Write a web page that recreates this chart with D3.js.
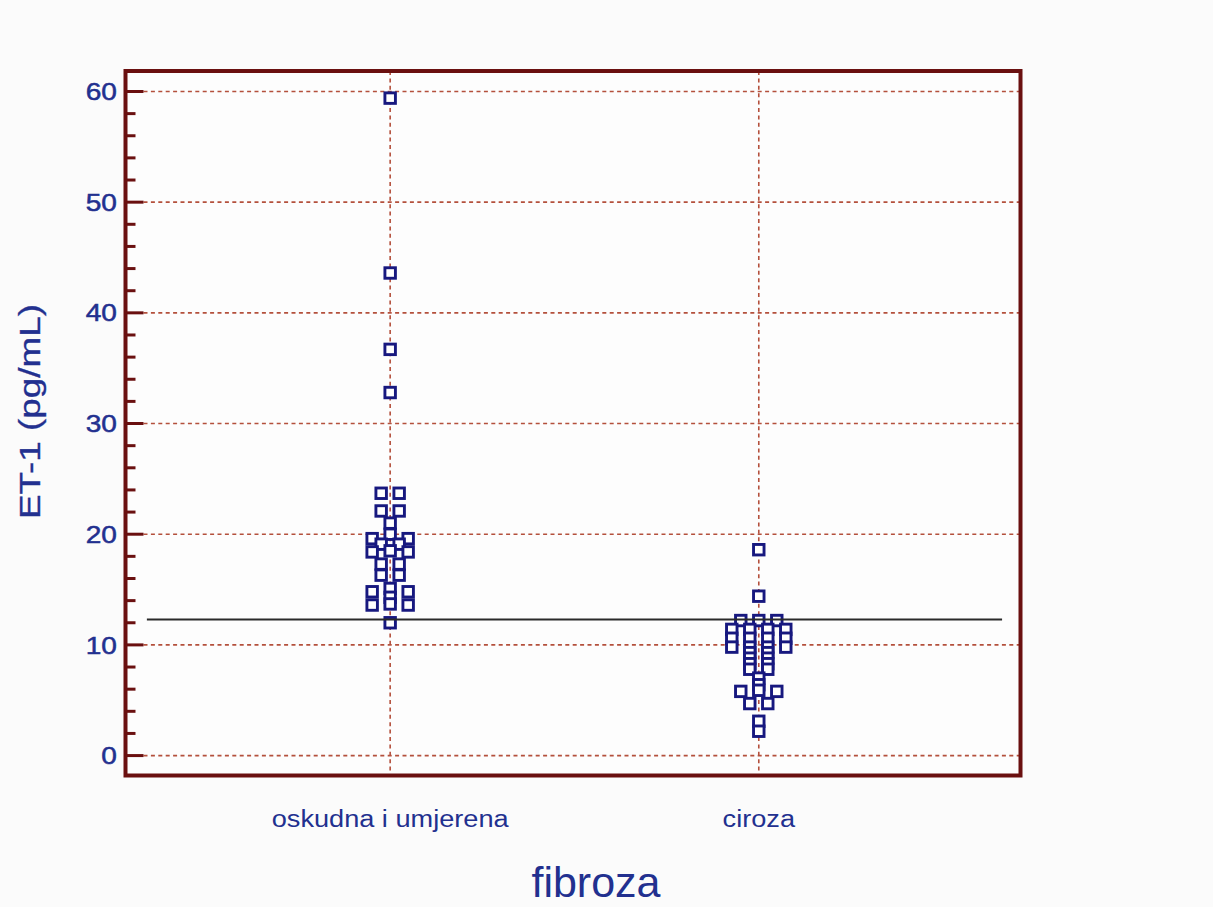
<!DOCTYPE html>
<html>
<head>
<meta charset="utf-8">
<script src="https://cdn.jsdelivr.net/npm/d3@7"></script>
<style>
	html, body { margin: 0; padding: 0; background: #fbfbfb; }
	#chart > svg { display: block; }
	text { font-family: 'Liberation Sans', Arial, sans-serif; fill: #22308f; }
</style>
</head>
<body>
<div id="chart"><svg width="1213" height="907"></svg></div>
<script>
// ET-1 (pg/mL) values, one array per group
var categories = ['oskudna i umjerena', 'ciroza'];
var oskudnaValues = [
	59.4, 43.6, 36.7, 32.8,
	23.7, 23.7, 22.1, 22.1, 21.0,
	20.0, 19.6, 19.6, 19.1, 19.1,
	18.5, 18.4, 18.4, 17.3, 17.3, 16.3, 16.3,
	15.1, 14.8, 14.8, 14.3, 13.7, 13.6, 13.6, 12.0
];
var cirozaValues = [
	18.6, 14.4,
	12.2, 12.2, 12.2,
	11.4, 11.4, 11.4, 11.4,
	10.6, 10.6, 10.6, 10.6,
	9.8, 9.8, 9.8, 9.8,
	9.3, 9.3, 8.8, 8.8, 8.3, 8.3, 7.8, 7.8,
	7.0, 6.4, 5.9, 5.8, 5.8,
	4.7, 4.7, 3.1, 2.2
];
var cutoffValue = 12.3;
var yTicks = [0, 10, 20, 30, 40, 50, 60];
var yMinorTicks = d3.range(0, 61, 2);
var yTitle = 'ET-1 (pg/mL)';
var xTitle = 'fibroza';

const DotPlot = {
	frame: { left: 125.5, top: 71, right: 1020.5, bottom: 775.5 },
	slotWidth: 9,
	rowTolerance: 0.45,
	frameColor: '#6a1010',
	gridColor: '#b4503c',
	markerColor: '#17187f',

	// group close values into rows, spread each row sideways from the centre
	layout: function(values, catIndex) {
		const self = this;
		var sorted = values.slice().sort(d3.descending);
		var rows = [];
		sorted.forEach(function(v) {
			var row = rows[rows.length - 1];
			if (row && row[0] - v <= self.rowTolerance) row.push(v);
			else rows.push([v]);
		});
		var points = [];
		rows.forEach(function(row) {
			var n = row.length;
			var slots = d3.range(n).map(function(i) { return (i - (n - 1) / 2) * 2; });
			slots.sort(function(a, b) { return Math.abs(a) - Math.abs(b) || a - b; });
			row.forEach(function(v, i) {
				points.push({ cat: catIndex, value: v, slot: slots[i] });
			});
		});
		return points;
	},

	stretch: function(sel, k) {
		sel.each(function() {
			this.setAttribute('textLength', this.getComputedTextLength() * k);
			this.setAttribute('lengthAdjust', 'spacingAndGlyphs');
		});
	},

	draw: function() {
		const self = this;
		var f = self.frame;
		var svg = d3.select('#chart > svg');

		var xScale = d3.scaleLinear()
			.domain([ -0.718, 1.71 ])
			.range([ f.left, f.right ]);
		var yScale = d3.scaleLinear()
			.domain([ -1.8, 61.85 ])
			.range([ f.bottom, f.top ]);

		// plot background
		svg.append('rect')
			.attr('x', f.left).attr('y', f.top)
			.attr('width', f.right - f.left).attr('height', f.bottom - f.top)
			.attr('fill', '#fdfdfd');

		// grids
		var grids = svg.append('g').attr('class', 'grids');
		grids.selectAll('.y.grid')
			.data(yTicks)
			.enter().append('line')
			.attr('class', 'y grid')
			.attr('x1', f.left + 18)
			.attr('x2', f.right)
			.attr('y1', function(d) { return yScale(d) })
			.attr('y2', function(d) { return yScale(d) });
		grids.selectAll('.x.grid')
			.data(categories)
			.enter().append('line')
			.attr('class', 'x grid')
			.attr('x1', function(d, i) { return xScale(i) })
			.attr('x2', function(d, i) { return xScale(i) })
			.attr('y1', f.top)
			.attr('y2', f.bottom);
		grids.selectAll('line')
			.attr('stroke', self.gridColor)
			.attr('stroke-width', 1.6)
			.attr('stroke-dasharray', '4,3.4');

		// y ticks
		var ticks = svg.append('g').attr('class', 'ticks');
		ticks.selectAll('.minor')
			.data(yMinorTicks)
			.enter().append('line')
			.attr('class', 'minor')
			.attr('x1', f.left)
			.attr('x2', function(d) { return f.left + (d % 10 === 0 ? 18 : 10) })
			.attr('y1', function(d) { return yScale(d) })
			.attr('y2', function(d) { return yScale(d) })
			.attr('stroke', self.frameColor)
			.attr('stroke-width', 3);

		ticks.selectAll('.label')
			.data(yTicks)
			.enter().append('text')
			.attr('class', 'label')
			.attr('x', f.left - 8.5)
			.attr('y', function(d) { return yScale(d) })
			.attr('dy', '0.36em')
			.attr('text-anchor', 'end')
			.style('font-size', '24px')
			.style('stroke', '#22308f')
			.style('stroke-width', 0.5)
			.text(function(d) { return d })
			.call(self.stretch, 1.17);

		// dots
		var points = self.layout(oskudnaValues, 0).concat(self.layout(cirozaValues, 1));
		svg.append('g').attr('class', 'plot')
			.selectAll('rect')
			.data(points)
			.enter().append('rect')
			.attr('x', function(d) { return xScale(d.cat) + d.slot * self.slotWidth - 5.25 })
			.attr('y', function(d) { return yScale(d.value) - 5.25 })
			.attr('width', 10.5)
			.attr('height', 10.5)
			.attr('fill', '#ffffff')
			.attr('stroke', self.markerColor)
			.attr('stroke-width', 2.9);

		// cut-off line
		svg.append('line')
			.attr('class', 'cutoff')
			.attr('x1', xScale(-0.66))
			.attr('x2', xScale(1.66))
			.attr('y1', yScale(cutoffValue))
			.attr('y2', yScale(cutoffValue))
			.attr('stroke', '#2a2a2a')
			.attr('stroke-width', 2);

		// frame
		svg.append('rect')
			.attr('x', f.left).attr('y', f.top)
			.attr('width', f.right - f.left).attr('height', f.bottom - f.top)
			.attr('fill', 'none')
			.attr('stroke', self.frameColor)
			.attr('stroke-width', 4);

		// category labels
		svg.append('g').attr('class', 'x labels')
			.selectAll('text')
			.data(categories)
			.enter().append('text')
			.attr('x', function(d, i) { return xScale(i) })
			.attr('y', f.bottom + 51)
			.attr('text-anchor', 'middle')
			.style('font-size', '23px')
			.text(function(d) { return d })
			.call(self.stretch, 1.18);

		// axis titles
		svg.append('text')
			.attr('transform', 'translate(40,411.5) rotate(-90)')
			.attr('text-anchor', 'middle')
			.style('font-size', '29px')
			.style('stroke', '#22308f')
			.style('stroke-width', 0.3)
			.text(yTitle)
			.call(self.stretch, 1.27);
		svg.append('text')
			.attr('x', 596)
			.attr('y', 896.5)
			.attr('text-anchor', 'middle')
			.style('font-size', '43px')
			.text(xTitle);
	}
}

DotPlot.draw();
</script>
</body>
</html>
